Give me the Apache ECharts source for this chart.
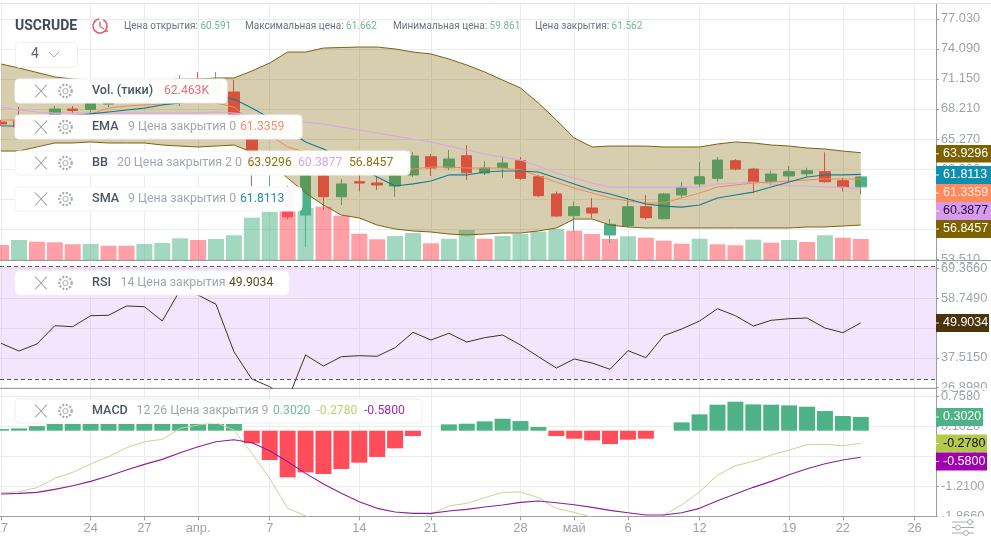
<!DOCTYPE html>
<html><head><meta charset="utf-8">
<style>html,body{margin:0;padding:0;background:#fff}#c{width:991px;height:541px}</style>
<script src="https://cdn.jsdelivr.net/npm/echarts@6/dist/echarts.min.js"></script>
</head><body><div id="c"></div>
<script>
const opens=[66.93,67.13,66.74,67.42,68.20,68.16,68.69,69.09,69.28,69.67,69.87,70.65,69.57,69.87,67.32,62.24,60.47,57.83,61.65,59.62,61.09,60.96,60.67,61.75,63.54,62.46,63.63,61.94,62.48,63.15,61.58,59.89,57.76,58.52,55.88,56.79,58.64,57.47,59.79,60.87,61.42,63.15,62.33,61.09,61.65,61.87,62.07,61.19,60.591];
const closes=[66.74,66.44,67.32,68.20,68.06,68.74,69.48,69.87,70.06,70.46,70.65,69.57,70.85,67.32,62.43,63.70,57.64,61.65,59.62,60.87,60.96,60.77,61.65,63.61,62.43,63.31,61.97,62.43,62.92,61.42,59.72,57.73,58.64,58.03,56.92,58.64,57.57,59.89,60.54,61.58,63.21,62.33,61.03,61.84,62.07,62.17,61.09,60.54,61.562];
const lows=[66.54,66.25,66.54,67.23,67.81,67.81,68.40,68.89,69.09,69.48,68.50,69.28,69.28,67.13,60.67,60.67,57.40,54.70,58.32,58.81,60.13,60.28,59.62,61.55,61.65,62.24,61.26,61.75,61.45,61.26,59.60,57.64,56.20,57.54,55.09,56.60,57.40,57.40,59.50,60.47,61.09,62.20,59.96,60.77,60.96,61.58,61.00,60.13,59.861];
const highs=[67.13,68.40,67.62,68.50,68.50,69.09,69.87,70.26,70.45,71.04,71.53,71.82,71.82,71.04,67.62,64.00,60.70,61.90,61.84,61.35,61.75,61.55,61.95,64.00,63.80,64.19,64.68,63.12,63.50,63.51,61.75,60.13,59.13,59.50,57.44,59.50,59.79,60.00,61.09,63.04,63.51,63.30,62.45,62.17,62.63,62.46,63.97,61.48,61.662];
const volumes=[44.6,59.5,54.4,52.6,46.7,47.6,42.5,42.5,47.6,50.6,64.5,59.5,62.5,73.5,125.8,142.8,145.7,154.6,158.5,131.7,78.2,61.6,71.4,80.3,49.7,63.3,89.2,63.3,71.4,77.3,84.2,92.2,87.1,77.3,62.5,70.5,66.3,57.4,48.5,63.3,46.7,43.7,60.4,51.4,59.5,53.5,73.5,66.3,62.463];
const volumeDir="rgrrrgrrgggrggggrgrrrrggrggrggggrrrgrrrgrrgrgrgrr".split("");
const bbUpper=[72.61,72.22,71.78,71.34,71.14,71.04,71.04,71.04,71.04,71.04,71.14,71.14,71.24,71.24,71.92,72.71,73.78,73.78,74.17,74.22,74.27,74.27,74.08,73.78,73.59,73.10,72.51,71.83,71.04,70.26,68.79,67.13,65.37,64.49,64.58,64.58,64.58,64.49,64.49,64.49,64.78,64.98,64.88,64.68,64.58,64.39,64.29,64.09,63.93];
const bbMiddle=[68.40,68.11,67.91,67.81,67.81,67.81,67.81,67.81,67.81,67.81,67.81,67.81,67.91,67.81,67.62,67.32,67.13,66.93,66.74,66.44,66.15,65.86,65.56,65.27,64.98,64.58,64.19,63.80,63.51,63.21,62.63,61.94,61.45,60.96,60.57,60.57,60.57,60.57,60.57,60.57,60.87,60.96,61.06,60.87,60.67,60.67,60.57,60.57,60.39];
const bbLower=[64.09,64.09,64.49,64.88,64.88,64.98,64.88,64.88,64.88,64.68,64.58,64.49,64.58,64.68,63.99,62.92,61.45,59.99,58.81,57.83,57.54,56.85,56.46,56.27,56.17,55.97,55.88,55.97,56.07,56.07,56.27,56.56,57.44,57.44,56.85,56.66,56.56,56.56,56.56,56.56,56.56,56.56,56.56,56.56,56.56,56.66,56.66,56.76,56.85];
const ema9=[67.13,67.13,67.32,67.52,67.62,67.72,68.30,68.50,68.60,68.69,68.79,68.79,68.79,68.40,66.93,65.66,64.49,63.99,63.41,62.92,62.63,62.43,62.33,62.33,62.53,62.53,62.43,62.43,62.43,62.24,61.65,61.06,60.47,59.98,59.50,59.20,59.01,59.01,59.50,59.98,60.57,60.77,60.96,61.06,61.16,61.26,61.36,61.36,61.34];
const sma9=[66.54,66.54,66.74,67.13,67.52,67.72,67.91,68.11,68.30,68.60,68.79,68.99,69.48,69.18,68.30,67.32,66.15,64.98,64.29,63.41,62.53,61.55,60.67,60.87,61.16,61.75,61.75,62.04,62.14,62.14,62.04,61.45,60.87,60.28,59.89,59.40,58.91,58.71,58.61,58.81,59.50,59.79,60.08,60.57,61.06,61.55,61.75,61.75,61.81];
const rsi14=[42.67,39.94,42.42,48.92,48.56,52.47,52.61,55.91,55.66,50.59,61.6,59.8,56.51,39.69,30.0,27.27,22.55,38.52,34.62,37.92,38.27,38.06,41.11,46.58,43.84,46.22,43.13,44.66,45.62,42.07,37.92,33.91,37.10,35.68,33.44,40.05,37.56,45.37,47.75,50.59,54.95,52.47,48.81,50.84,51.40,51.65,48.1,46.44,49.90];
const macdHist=[.036,.05,.10,.146,.146,.146,.146,.146,.146,.146,.146,.146,.146,.146,-.277,-.641,-1.02,-.911,-.947,-.838,-.70,-.574,-.386,-.117,0,.138,.153,.204,.262,.211,.08,-.117,-.175,-.211,-.292,-.197,-.175,0,.182,.357,.569,.634,.576,.569,.554,.525,.43,.321,.302];
const macdDif=[-1.356,-1.334,-1.246,-1.042,-.911,-.729,-.569,-.372,-.241,-.19,.051,.124,.175,.015,-.496,-1.042,-1.698,-1.859,-2.03,-2.17,-2.24,-2.21,-2.14,-1.99,-1.822,-1.647,-1.589,-1.465,-1.348,-1.341,-1.465,-1.698,-1.786,-1.895,-2.03,-2.06,-2.06,-1.844,-1.625,-1.334,-.969,-.765,-.671,-.532,-.423,-.306,-.299,-.328,-.278];
const macdSignal=[-1.385,-1.37,-1.348,-1.283,-1.203,-1.108,-.991,-.86,-.736,-.627,-.481,-.35,-.241,-.197,-.262,-.437,-.678,-.933,-1.166,-1.37,-1.552,-1.698,-1.778,-1.808,-1.808,-1.757,-1.72,-1.669,-1.625,-1.567,-1.538,-1.574,-1.618,-1.676,-1.742,-1.793,-1.844,-1.844,-1.793,-1.698,-1.531,-1.385,-1.239,-1.108,-.962,-.831,-.722,-.641,-.58];
const xTickIndex=[0,5,8,11,15,20,24,29,32,35,39,44,47,51];
const xTickLabels=["17","24","27","апр.","7","14","21","28","май","6","12","19","22","26"];
const priceTicks=[53.51,56.45,59.39,62.33,65.27,68.21,71.15,74.09,77.03];
const rsiTicks=[26.898,37.515,48.132,58.749,69.366];
const macdTicks=[-1.866,-1.21,-.554,.102,.758];
const rsiLevels=[70,30];

const FONT_AXIS='"Liberation Sans",Arial,sans-serif', FONT_UI='Roboto,"Noto Sans",sans-serif';
const GREEN='#4db386', RED='#ff4d5a', GRID='#ececef', AXIS='#9a9ea3', LABEL='#9ea3aa';
const XMIN=-0.06, XMAX=52.2, AXFS=12.8;
const pts=a=>a.map((v,i)=>[i,v]);

const xBase=(gi,show)=>({type:'value',gridIndex:gi,min:XMIN,max:XMAX,containShape:false,
  axisLine:{show:true,onZero:false,lineStyle:{color:AXIS,width:1}},
  axisTick:{show:show,length:4,customValues:xTickIndex,lineStyle:{color:AXIS}},
  axisLabel:{show:show,customValues:xTickIndex,margin:6,color:LABEL,fontFamily:FONT_AXIS,fontSize:AXFS,hideOverlap:false,showMinLabel:true,showMaxLabel:true,
    formatter:v=>{const k=xTickIndex.indexOf(Math.round(v));return k<0?'':xTickLabels[k];}},
  splitLine:{show:true,lineStyle:{color:GRID,width:1}}});
const yBase=(gi,min,max,ticks,dec,pad)=>({type:'value',gridIndex:gi,min,max,position:'right',scale:true,
  axisLine:{show:true,onZero:false,lineStyle:{color:AXIS,width:1}},
  axisTick:{show:true,length:3,customValues:ticks,lineStyle:{color:AXIS}},
  axisLabel:{customValues:ticks,margin:5,padding:[0,0,pad,0],color:LABEL,fontFamily:FONT_AXIS,fontSize:AXFS,hideOverlap:false,showMinLabel:true,showMaxLabel:true,
    formatter:v=>v.toFixed(dec)},
  splitLine:{show:true,lineStyle:{color:GRID,width:1}}});

const lineS=(name,data,color,width,z,xi,yi)=>({name,type:'line',data:pts(data),xAxisIndex:xi,yAxisIndex:yi,symbol:'none',
  showSymbol:false,z,lineStyle:{color,width},silent:true,animation:false,clip:true});

const series=[
 {name:'Vol',type:'bar',xAxisIndex:0,yAxisIndex:1,barWidth:16,z:1,animation:false,
  data:volumes.map((v,i)=>({value:[i,v],itemStyle:{color:volumeDir[i]==='g'?'rgba(77,179,134,.52)':'rgba(255,77,90,.54)'}}))},
 {name:'USCRUDE',type:'candlestick',xAxisIndex:0,yAxisIndex:0,barWidth:11,z:2,animation:false,
  itemStyle:{color:GREEN,color0:RED,borderColor:GREEN,borderColor0:RED,borderWidth:1},
  data:opens.map((o,i)=>[i,o,closes[i],lows[i],highs[i]])},
 {name:'BB band',type:'custom',xAxisIndex:0,yAxisIndex:0,z:3,silent:true,animation:false,clip:true,data:pts(bbUpper),encode:{x:0,y:1},
  renderItem:(p,api)=>{ if(p.dataIndex!==0) return;
    const up=bbUpper.map((v,i)=>api.coord([i,v])), lo=bbLower.map((v,i)=>api.coord([i,v])).reverse();
    return {type:'polygon',shape:{points:up.concat(lo)},style:{fill:'rgba(127,96,0,.31)'}}; }},
 lineS('BB mid',bbMiddle,'#d9a8e6',1.2,4,0,0),
 lineS('BB up',bbUpper,'#7a6215',1,4,0,0),
 lineS('BB low',bbLower,'#7a6215',1,4,0,0),
 lineS('EMA',ema9,'#f08a55',1,5,0,0),
 lineS('SMA',sma9,'#157c94',1.2,6,0,0),
 Object.assign(lineS('RSI',rsi14,'#45311c',1,4,1,2),{
   markArea:{silent:true,z:1,itemStyle:{color:'rgba(200,140,240,.22)'},data:[[{yAxis:rsiLevels[0]},{yAxis:rsiLevels[1]}]]},
   markLine:{silent:true,symbol:'none',label:{show:false},lineStyle:{color:'#555',type:[4,3],width:1},data:rsiLevels.map(v=>({yAxis:v}))}}),
 {name:'MACD hist',type:'bar',xAxisIndex:2,yAxisIndex:3,barWidth:16,z:1,animation:false,
  data:macdHist.map((v,i)=>({value:[i,v],itemStyle:{color:v>=0?GREEN:RED}}))},
 lineS('DIF',macdDif,'#cfcf95',1,3,2,3),
 lineS('Signal',macdSignal,'#8d1f9c',1.1,4,2,3)
];

// ---------- overlay text ----------
const g=[];
const Z=100;
const rect=(x,y,w,h,fill,extra)=>g.push({type:'rect',z:Z,silent:true,shape:{x,y,width:w,height:h,r:(extra&&extra.r)||0},style:{fill,stroke:(extra&&extra.stroke)||null,lineWidth:1}});
const line=(x1,y1,x2,y2,stroke,w)=>g.push({type:'line',z:Z+1,silent:true,shape:{x1,y1,x2,y2},style:{stroke,lineWidth:w||1}});
const txt=(x,y,text,font,fill,extra)=>g.push({type:'text',z:Z+1,silent:true,x,y,style:Object.assign({text,fontFamily:font||FONT_UI,fontSize:14,fill,verticalAlign:'middle',align:'left'},extra||{})});

function panel(y,w,segs,border){
  rect(15,y,w,24,border?'rgba(255,255,255,.9)':'rgba(255,255,255,.97)',{r:4,stroke:border?'#eceef0':'#f2f3f4'});
  const c=y+12;
  line(35,c-6.5,47,c+6.5,'#9aa1a8',1.1); line(47,c-6.5,35,c+6.5,'#9aa1a8',1.1);
  g.push({type:'circle',z:Z+1,silent:true,shape:{cx:65.5,cy:c,r:6.2},style:{fill:'none',stroke:'#a5abb1',lineWidth:2.2,lineDash:[2,1.6]}});
  g.push({type:'circle',z:Z+1,silent:true,shape:{cx:65.5,cy:c,r:2.6},style:{fill:'none',stroke:'#a5abb1',lineWidth:1}});
  segs.forEach(s=>txt(s[0],c,s[1],FONT_UI,s[2],{fontSize:s[3],fontWeight:s[4]||400}));
}
const NAME='#4b5566', PAR='#a0a6b0', PFS=12.3, VFS=12.2, NFS=12.6;
panel(79,212,[[92,'Vol. (тики)',NAME,NFS,500],[164,volumes[48].toFixed(3)+'K','#e2707f',VFS]]);
panel(115,287,[[92,'EMA',NAME,NFS,500],[128,'9 Цена закрытия 0',PAR,PFS],[240,'61.3359','#ef8f6c',VFS]]);
panel(151,395,[[92,'BB',NAME,NFS,500],[117,'20 Цена закрытия 2 0',PAR,PFS],[247.5,'63.9296','#8a7518',VFS],[298,'60.3877','#d9a8e6',VFS],[349,'56.8457','#8a7518',VFS]]);
panel(187,287,[[92,'SMA',NAME,NFS,500],[128,'9 Цена закрытия 0',PAR,PFS],[240,'61.8113','#2b8ea3',VFS]]);
panel(271,274,[[92,'RSI',NAME,NFS,500],[120.5,'14 Цена закрытия',PAR,PFS],[229,'49.9034','#5a4a20',VFS]]);
panel(399,407,[[92,'MACD',NAME,NFS,500],[136.5,'12 26 Цена закрытия 9',PAR,PFS],[273,'0.3020','#6dbd9a',VFS],[316.5,'-0.2780','#c3d070',VFS],[364,'-0.5800','#a32cb0',VFS]],true);

// header
txt(15,26,'USCRUDE',FONT_UI,'#3f4a5a',{fontWeight:700,fontSize:14});
g.push({type:'arc',z:Z+1,silent:true,shape:{cx:100,cy:26,r:7,startAngle:-1.1,endAngle:4.6},style:{fill:'none',stroke:'#e2606e',lineWidth:1.6}});
line(100,21.5,100,26.5,'#e2606e',1.4); line(100,26.5,104,29,'#e2606e',1.4); line(104,31,108,31,'#e2606e',1.6);
const hdr=(x,label,val)=>g.push({type:'text',z:Z+1,silent:true,x,y:26,style:{text:'{a|'+label+' }{b|'+val+'}',verticalAlign:'middle',align:'left',
  rich:{a:{fill:'#6c7480',fontFamily:FONT_UI,fontSize:10},b:{fill:'#6fb891',fontFamily:FONT_UI,fontSize:10}}}});
hdr(124,'Цена открытия:',opens[48].toFixed(3));
hdr(245,'Максимальная цена:',highs[48].toFixed(3));
hdr(393,'Минимальная цена:',lows[48].toFixed(3));
hdr(535,'Цена закрытия:',closes[48].toFixed(3));
rect(15.5,42.5,62,25,'#fff',{r:4,stroke:'#eef0f2'});
txt(31,54,'4',FONT_UI,'#5a6472',{fontSize:14});
line(49,52,54,57,'#aab0b7',1); line(54,57,59,52,'#aab0b7',1);

// right tags
const tag=(y,h,w,text,bg,fg)=>{rect(936,y,w,h,bg);line(936,y+h/2,939,y+h/2,'rgba(255,255,255,.9)',1);
  txt(943,y+h/2,text,FONT_AXIS,fg,{fontSize:AXFS-.3});};
tag(145,17.5,55,'63.9296','#7f6200','#fff');
tag(166,18,55,'61.8113','#0e8fae','#fff');
tag(184,18,55,'61.3359','#ff8a5c','#ffe9df');
tag(202,18,55,'60.3877','#d69cea','#2a0a40');
tag(220,18,55,'56.8457','#7f6200','#fff');
tag(314,18,53,'49.9034','#4a340c','#fff');
tag(408,18,47,'0.3020','#4db386','#fff');
tag(434.5,18,51,'-0.2780','#b5c94f','#111');
tag(452.5,18,51,'-0.5800','#a000b0','#fff');

// panes cut the tick labels that straddle their edges
rect(937,260.5,54,1.6,'#fff');
rect(937,388.4,54,1.8,'#fff');
rect(937,516.6,54,6.4,'#fff');
line(936,260.5,991,260.5,AXIS,1);
line(0,3.5,991,3.5,'#e2e3e5',1);
// settings glyph
[[522,970],[527.5,958],[533,966]].forEach(p=>{line(952,p[0],974,p[0],'#a6abb1',1);
  g.push({type:'circle',z:Z+1,silent:true,shape:{cx:p[1],cy:p[0],r:2.4},style:{fill:'#fff',stroke:'#a6abb1',lineWidth:1}});});

const chart=echarts.init(document.getElementById('c'),null,{renderer:'canvas'});
chart.setOption({animation:false,backgroundColor:'#fff',
  grid:[{left:0,width:936,top:4,height:256,outerBoundsMode:'none'},{left:0,width:936,top:261,height:127.3,outerBoundsMode:'none'},{left:0,width:936,top:389,height:127.3,outerBoundsMode:'none'}],
  xAxis:[xBase(0,false),xBase(1,false),xBase(2,true)],
  yAxis:[yBase(0,53.43,78.48,priceTicks,3,1),
    {type:'value',gridIndex:0,min:0,max:761,show:false,splitLine:{show:false}},
    yBase(1,26.7,71.88,rsiTicks,4,3),yBase(2,-1.872,.912,macdTicks,4,3)],
  series,graphic:{elements:g}});
</script></body></html>
